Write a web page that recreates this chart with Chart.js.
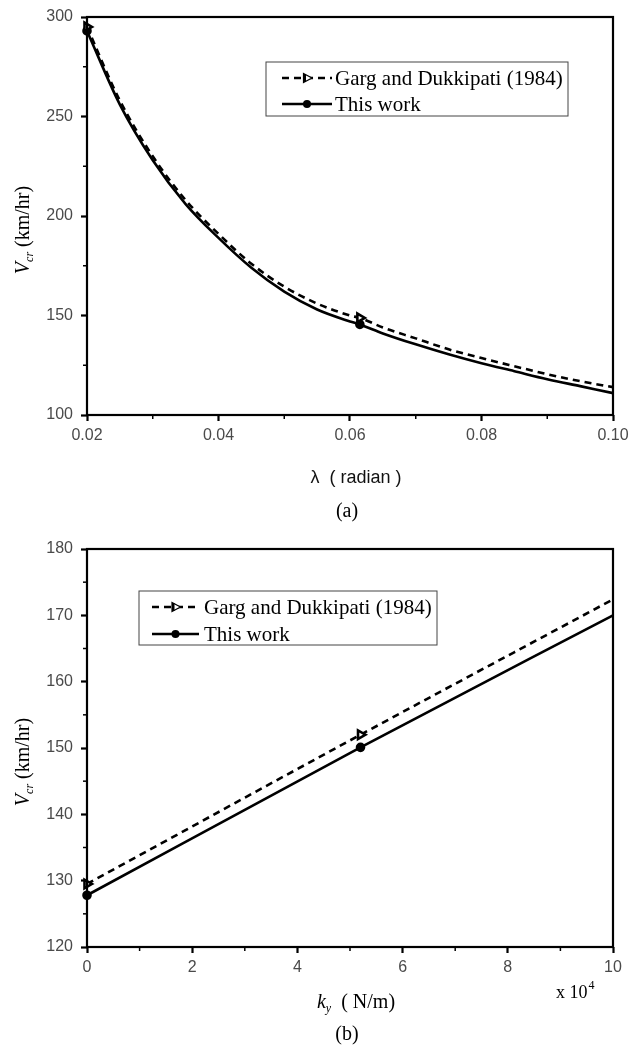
<!DOCTYPE html>
<html>
<head>
<meta charset="utf-8">
<script src="https://cdn.jsdelivr.net/npm/chart.js@4.4.0/dist/chart.umd.min.js"></script>
<style>
  body { margin: 0; background: #fff; }
  #wrap { position: relative; width: 629px; height: 1047px; }
  canvas { position: absolute; left: 0; }
  #chartA { top: 0; }
  #chartB { top: 530px; }
</style>
</head>
<body>
<div id="wrap">
  <canvas id="chartA" width="629" height="530"></canvas>
  <canvas id="chartB" width="629" height="517"></canvas>
</div>
<script>
// ---- data, panel (a): critical speed vs lambda ----
const lambdaVals = [0.02, 0.025, 0.03, 0.035, 0.04, 0.045, 0.05, 0.055, 0.06, 0.0615, 0.065, 0.07, 0.075, 0.08, 0.085, 0.09, 0.095, 0.10];
const gargA = [295, 258, 230, 208, 191, 176, 164.5, 156, 150, 148.8, 144, 138.5, 133, 128.6, 124.5, 120.5, 117, 114];
const workA = [293, 256, 228, 206, 189, 174, 162, 153, 147, 145.5, 141, 135.5, 130.5, 126, 122, 118, 114.5, 111];
const markersA = [0.02, 0.0615];

// ---- data, panel (b): critical speed vs k_y (x 10^4 N/m) ----
const kyVals = [0, 5.2, 10];
const gargB = [129.5, 152, 172.4];
const workB = [127.8, 150.1, 170];
const markersB = [0, 5.2];

const seriesNames = ['Garg and Dukkipati (1984)', 'This work'];

function toPoints(xs, ys) {
    return xs.map((x, i) => ({ x: x, y: ys[i] }));
}

function line(ctx, x1, y1, x2, y2) {
    ctx.beginPath();
    ctx.moveTo(x1, y1);
    ctx.lineTo(x2, y2);
    ctx.stroke();
}

function drawMarker(ctx, style, x, y) {
    ctx.save();
    ctx.setLineDash([]);
    ctx.lineWidth = 1.2;
    ctx.strokeStyle = '#000';
    if (style === 'triangle') {
        ctx.fillStyle = '#fff';
        ctx.beginPath();
        ctx.moveTo(x + 5, y);
        ctx.lineTo(x - 3.5, y - 4.5);
        ctx.lineTo(x - 3.5, y + 4.5);
        ctx.closePath();
        ctx.fill();
        ctx.stroke();
        ctx.fillStyle = '#000';
        ctx.fillRect(x - 3.5, y - 4, 2.5, 8);
    } else {
        ctx.fillStyle = '#000';
        ctx.beginPath();
        ctx.arc(x, y, 4, 0, Math.PI * 2);
        ctx.fill();
    }
    ctx.restore();
}

// frame, minor ticks, legend and texts
const decor = {
    id: 'decor',
    afterDraw(chart, args, o) {
        const { ctx, chartArea: a, scales } = chart;
        const xs = scales.x, ys = scales.y;
        ctx.save();
        ctx.strokeStyle = '#000';

        // minor ticks halfway between major ones
        ctx.lineWidth = 1.5;
        for (let i = 0; i < xs.ticks.length - 1; i++) {
            const v = (xs.ticks[i].value + xs.ticks[i + 1].value) / 2;
            const px = xs.getPixelForValue(v);
            line(ctx, px, a.bottom, px, a.bottom + 4);
        }
        for (let i = 0; i < ys.ticks.length - 1; i++) {
            const v = (ys.ticks[i].value + ys.ticks[i + 1].value) / 2;
            const py = ys.getPixelForValue(v);
            line(ctx, a.left - 4, py, a.left, py);
        }

        // plot frame
        ctx.lineWidth = 2.2;
        ctx.strokeRect(a.left, a.top, a.right - a.left, a.bottom - a.top);

        // legend box
        const L = o.legend;
        ctx.lineWidth = 1;
        ctx.strokeStyle = '#444';
        ctx.strokeRect(L.left, L.top, L.width, L.height);
        ctx.font = '21px "Liberation Serif", "Times New Roman", serif';
        ctx.fillStyle = '#000';
        ctx.textBaseline = 'middle';
        ctx.textAlign = 'left';
        chart.data.datasets.forEach((ds, i) => {
            const yy = L.top + L.rowTop + i * L.rowGap;
            ctx.save();
            ctx.strokeStyle = '#000';
            ctx.lineWidth = ds.borderWidth;
            ctx.setLineDash(ds.borderDash || []);
            line(ctx, L.left + L.sampleX, yy, L.left + L.sampleX + L.sampleW, yy);
            ctx.restore();
            drawMarker(ctx, ds.pointStyle, L.left + L.sampleX + L.sampleW / 2, yy);
            ctx.fillText(ds.label, L.left + L.textX, yy + 1);
        });

        // y title: V_cr (km/hr)
        ctx.save();
        ctx.translate(o.yTitleX, (a.top + a.bottom) / 2 + o.yTitleShift);
        ctx.rotate(-Math.PI / 2);
        const fMain = 'italic 20px "Liberation Serif", serif';
        const fSub = 'italic 12px "Liberation Serif", serif';
        const fReg = '20px "Liberation Serif", serif';
        ctx.font = fMain; const wV = ctx.measureText('V').width;
        ctx.font = fSub; const wS = ctx.measureText('cr').width;
        ctx.font = fReg; const wR = ctx.measureText(' (km/hr)').width;
        let sx = -(wV + wS + wR) / 2;
        ctx.textBaseline = 'alphabetic';
        ctx.font = fMain; ctx.fillText('V', sx, 7); sx += wV;
        ctx.font = fSub; ctx.fillText('cr', sx, 11); sx += wS;
        ctx.font = fReg; ctx.fillText(' (km/hr)', sx, 7);
        ctx.restore();

        // x title
        const cx = (a.left + a.right) / 2;
        ctx.textBaseline = 'alphabetic';
        if (o.xTitle === 'lambda') {
            ctx.font = '18px "Liberation Sans", Arial, sans-serif';
            ctx.fillStyle = '#111';
            ctx.textAlign = 'center';
            ctx.fillText('λ  ( radian )', cx + 6, o.xTitleY);
        } else {
            const fk = 'italic 20px "Liberation Serif", serif';
            const fy = 'italic 12px "Liberation Serif", serif';
            const fn = '20px "Liberation Serif", serif';
            ctx.font = fk; const wk = ctx.measureText('k').width;
            ctx.font = fy; const wy = ctx.measureText('y').width;
            ctx.font = fn; const wn = ctx.measureText('  ( N/m)').width;
            let tx = cx + 6 - (wk + wy + wn) / 2;
            ctx.textAlign = 'left';
            ctx.font = fk; ctx.fillText('k', tx, o.xTitleY); tx += wk;
            ctx.font = fy; ctx.fillText('y', tx, o.xTitleY + 4); tx += wy;
            ctx.font = fn; ctx.fillText('  ( N/m)', tx, o.xTitleY);

            // x 10^4 multiplier
            ctx.font = '18px "Liberation Serif", serif';
            const wm = ctx.measureText('x 10').width;
            ctx.fillText('x 10', o.multX, o.multY);
            ctx.font = '12px "Liberation Serif", serif';
            ctx.fillText('4', o.multX + wm + 1, o.multY - 9);
        }

        // panel caption
        ctx.font = '20px "Liberation Serif", serif';
        ctx.textAlign = 'center';
        ctx.fillStyle = '#000';
        ctx.fillText(o.caption, cx - 3, o.captionY);
        ctx.restore();
    }
};

function makeChart(id, xVals, garg, work, markers, xr, yr, extra) {
    const H = document.getElementById(id).height;
    const isMark = ctx => markers.includes(xVals[ctx.dataIndex]);
    const tickFont = { family: '"Liberation Sans", Arial, sans-serif', size: 16 };
    return new Chart(document.getElementById(id), {
        type: 'line',
        data: {
            datasets: [{
                label: seriesNames[0],
                data: toPoints(xVals, garg),
                borderColor: '#000',
                borderWidth: 2.6,
                borderDash: [7, 5],
                pointStyle: 'triangle',
                pointRotation: 90,
                pointBackgroundColor: '#fff',
                pointBorderColor: '#000',
                pointRadius: ctx => isMark(ctx) ? 5 : 0,
                cubicInterpolationMode: 'monotone',
                clip: 6
            }, {
                label: seriesNames[1],
                data: toPoints(xVals, work),
                borderColor: '#000',
                borderWidth: 2.6,
                pointStyle: 'circle',
                pointBackgroundColor: '#000',
                pointBorderColor: '#000',
                pointRadius: ctx => isMark(ctx) ? 3.5 : 0,
                cubicInterpolationMode: 'monotone',
                clip: 6
            }]
        },
        options: {
            responsive: false,
            animation: false,
            layout: { padding: { left: 0, top: extra.top, right: 629 - extra.right, bottom: 0 } },
            plugins: {
                legend: { display: false },
                tooltip: { enabled: false },
                decor: extra.decor
            },
            scales: {
                x: {
                    type: 'linear',
                    min: xr.min, max: xr.max,
                    afterFit: s => {
                        s.height = H - extra.bottom;
                        s.paddingLeft = 0;
                        s.paddingRight = 0;
                    },
                    ticks: {
                        stepSize: xr.step,
                        padding: 5,
                        color: '#4a4a4a',
                        font: tickFont,
                        maxRotation: 0,
                        callback: xr.fmt
                    },
                    grid: { drawOnChartArea: false, drawTicks: true, tickLength: 6, tickWidth: 2.2, tickColor: '#000' },
                    border: { display: false }
                },
                y: {
                    min: yr.min, max: yr.max,
                    afterFit: s => {
                        s.width = extra.left;
                        s.paddingTop = 0;
                        s.paddingBottom = 0;
                    },
                    ticks: {
                        stepSize: yr.step,
                        padding: 8,
                        color: '#4a4a4a',
                        font: tickFont
                    },
                    grid: { drawOnChartArea: false, drawTicks: true, tickLength: 6, tickWidth: 2.2, tickColor: '#000' },
                    border: { display: false }
                }
            }
        },
        plugins: [decor]
    });
}

makeChart('chartA', lambdaVals, gargA, workA, markersA,
    { min: 0.02, max: 0.10, step: 0.02, fmt: v => v.toFixed(2) },
    { min: 100, max: 300, step: 50 },
    {
        left: 87, right: 613, top: 17, bottom: 415,
        decor: {
            legend: { left: 266, top: 62, width: 302, height: 54, rowTop: 16, rowGap: 26, sampleX: 16, sampleW: 50, textX: 69 },
            yTitleX: 22, yTitleShift: 14,
            xTitle: 'lambda', xTitleY: 483,
            caption: '(a)', captionY: 517
        }
    });

makeChart('chartB', kyVals, gargB, workB, markersB,
    { min: 0, max: 10, step: 2, fmt: v => String(v) },
    { min: 120, max: 180, step: 10 },
    {
        left: 87, right: 613, top: 19, bottom: 417,
        decor: {
            legend: { left: 139, top: 61, width: 298, height: 54, rowTop: 16, rowGap: 27, sampleX: 13, sampleW: 47, textX: 65 },
            yTitleX: 22, yTitleShift: 14,
            xTitle: 'ky', xTitleY: 478, multX: 556, multY: 468,
            caption: '(b)', captionY: 510
        }
    });
</script>
</body>
</html>
